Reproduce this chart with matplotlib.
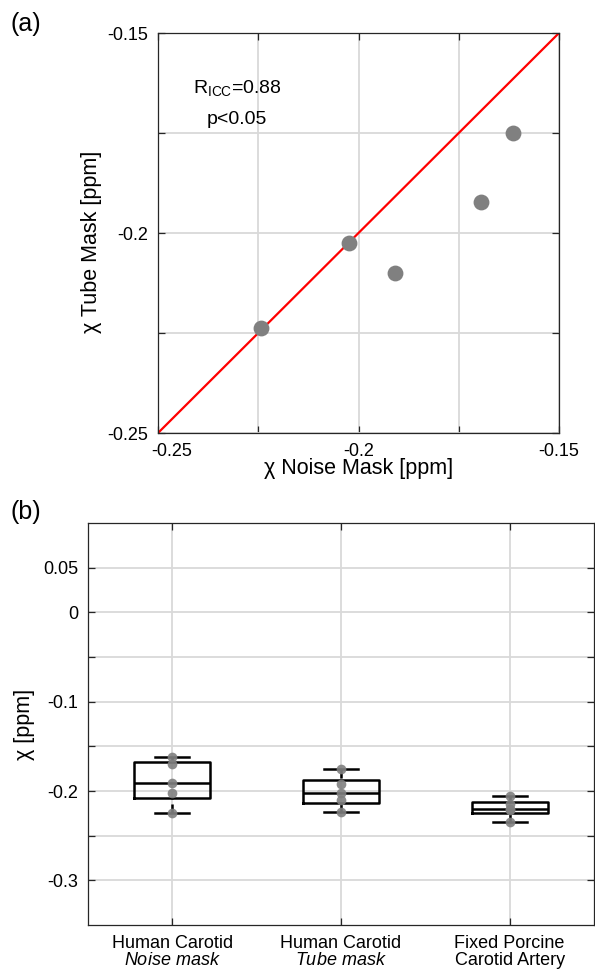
import numpy as np
import matplotlib
matplotlib.use('Agg')
import matplotlib.pyplot as plt
from matplotlib.transforms import ScaledTranslation

plt.rcParams['font.family'] = ['Liberation Sans', 'DejaVu Sans']
plt.rcParams['mathtext.fontset'] = 'custom'
plt.rcParams['mathtext.rm'] = 'Liberation Sans'
plt.rcParams['mathtext.it'] = 'Liberation Sans:italic'
plt.rcParams['axes.unicode_minus'] = False

# ---------------- data ----------------
noise_mask = [-0.2243, -0.2024, -0.1909, -0.1695, -0.1615]
tube_mask = [-0.2238, -0.2025, -0.2100, -0.1923, -0.1750]
porcine = [-0.2344, -0.2209, -0.2206, -0.2140, -0.2056]
identity_line = [-0.25, -0.15]

a_ticks = [-0.25, -0.225, -0.2, -0.175, -0.15]
a_ticklabels = ['-0.25', '', '-0.2', '', '-0.15']
b_yticks = [-0.3, -0.25, -0.2, -0.15, -0.1, -0.05, 0.0, 0.05]
b_yticklabels = ['-0.3', '', '-0.2', '', '-0.1', '', '0', '0.05']
b_categories = ['Human Carotid\n$\\it{Noise\\ mask}$',
                'Human Carotid\n$\\it{Tube\\ mask}$',
                'Fixed Porcine\nCarotid Artery']
b_groups = [noise_mask, tube_mask, porcine]
b_positions = [1, 2, 3]

FRAME = '#262626'
GRID = '#d9d9d9'
PT_COLOR = '#808080'

fig = plt.figure(figsize=(5.95, 9.71), dpi=100)

# ---------------- panel (a) ----------------
ax1 = fig.add_axes([158/595, 1-433/971, 401/595, 400/971])
ax1.plot(identity_line, identity_line, color='red', lw=1.6, zorder=2)
ax1.scatter(noise_mask, tube_mask, s=130, color=PT_COLOR, zorder=3, linewidths=0)
ax1.set_xlim(-0.25, -0.15)
ax1.set_ylim(-0.25, -0.15)
ax1.set_xticks(a_ticks)
ax1.set_xticklabels(a_ticklabels)
ax1.set_yticks(a_ticks)
ax1.set_yticklabels(a_ticklabels)
ax1.text(-0.2303, -0.1649, 'R$_{\\mathrm{ICC}}$=0.88', ha='center', va='baseline', fontsize=14)
ax1.text(-0.2303, -0.1728, 'p<0.05', ha='center', va='baseline', fontsize=14)
ax1.set_xlabel('χ Noise Mask [ppm]', fontsize=15.5)
ax1.set_ylabel('χ Tube Mask [ppm]', fontsize=15.5)
ax1.xaxis.set_label_coords(0.5, -0.062)
ax1.yaxis.set_label_coords(-0.14, 0.478)

# ---------------- panel (b) ----------------
ax2 = fig.add_axes([88/595, 1-925/971, 506/595, 402/971])
stats = []
for vals in b_groups:
    q1, med, q3 = np.percentile(vals, [25, 50, 75], method='hazen')
    stats.append(dict(med=med, q1=q1, q3=q3, whislo=min(vals), whishi=max(vals), fliers=[]))
lw = 1.8
res = ax2.bxp(stats, positions=b_positions, widths=0.45, capwidths=0.2, showfliers=False,
              boxprops=dict(color='black', lw=lw),
              medianprops=dict(color='black', lw=lw),
              whiskerprops=dict(color='black', lw=lw, ls=(0, (6.5/lw, 3.6/lw))),
              capprops=dict(color='black', lw=lw), manage_ticks=False, zorder=3)
for wl in res['whiskers']:
    wl.set_ydata(wl.get_ydata()[::-1])
for pos, vals in zip(b_positions, b_groups):
    ax2.plot(np.full(len(vals), pos), vals, 'o', color=PT_COLOR, ms=7, mew=0, alpha=0.9, zorder=4)
ax2.set_xlim(0.5, 3.5)
ax2.set_ylim(-0.35, 0.1)
ax2.set_xticks(b_positions)
ax2.set_xticklabels(b_categories, linespacing=1.0)
ax2.set_yticks(b_yticks)
ax2.set_yticklabels(b_yticklabels)
ax2.set_ylabel('χ [ppm]', fontsize=15.5)
ax2.yaxis.set_label_coords(-0.105, 0.5)

for ax in (ax1, ax2):
    ax.grid(True, color=GRID, lw=1.3)
    ax.set_axisbelow(True)
    for sp in ax.spines.values():
        sp.set_color(FRAME)
        sp.set_linewidth(0.9)
    ax.tick_params(direction='in', top=True, right=True, length=5, width=0.9,
                   color=FRAME, labelsize=13, labelcolor='black', pad=7)

# shift first x tick label of panel (a) to the right as in reference
fig.canvas.draw()
lab0 = ax1.xaxis.get_major_ticks()[0].label1
lab0.set_transform(lab0.get_transform() + ScaledTranslation(14/100, 0, fig.dpi_scale_trans))

fig.text(11/595, 1-12/971, '(a)', fontsize=18, ha='left', va='top')
fig.text(11/595, 1-500/971, '(b)', fontsize=18, ha='left', va='top')

fig.savefig('out.png', dpi=100)
